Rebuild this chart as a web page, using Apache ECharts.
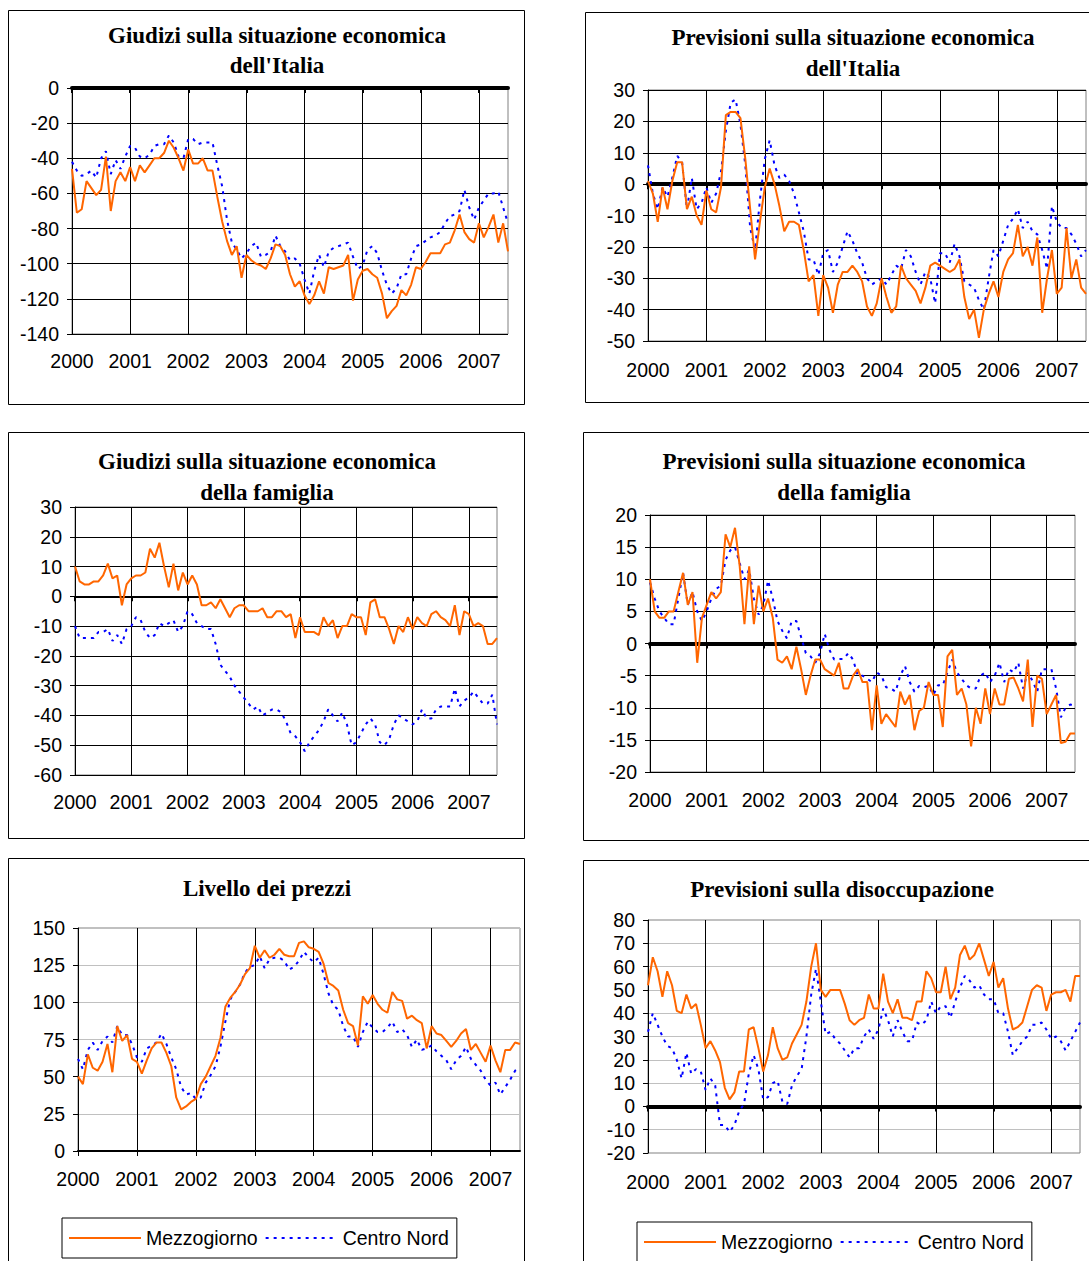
<!DOCTYPE html>
<html><head><meta charset="utf-8">
<script src="https://cdn.jsdelivr.net/npm/echarts@6/dist/echarts.min.js"></script>
<style>html,body{margin:0;padding:0;background:#fff}#c{width:1089px;height:1261px}</style>
</head><body><div id="c"></div>
<script>
// Tick labels (years, one every 12 monthly points)
const years = ['2000','2001','2002','2003','2004','2005','2006','2007'];
const seriesNames = ['Mezzogiorno','Centro Nord'];

// Giudizi sulla situazione economica dell'Italia (Jan 2000 .. Jul 2007, monthly)
const giudItaMez = [-46,-71,-69,-53,-57,-61,-58,-39,-70,-53,
 -48,-53,-45,-53,-44,-48,-44,-40,-40,-37,
 -30,-34,-40,-47,-35,-43,-43,-40,-47,-47,
 -62,-76,-87,-95,-90,-108,-95,-98,-100,-101,
 -103,-97,-89,-90,-95,-106,-113,-110,-118,-123,
 -118,-110,-117,-102,-103,-102,-101,-95,-121,-109,
 -104,-103,-106,-108,-117,-131,-127,-124,-115,-118,
 -112,-102,-103,-99,-94,-94,-94,-89,-88,-81,
 -72,-82,-86,-88,-77,-85,-79,-72,-88,-77,
 -93];
const giudItaCN = [-42,-47,-50,-49,-47,-51,-40,-36,-49,-41,
 -46,-39,-33,-34,-39,-40,-38,-33,-32,-32,
 -27,-31,-39,-40,-29,-29,-32,-31,-31,-31,
 -44,-56,-75,-88,-92,-97,-94,-90,-88,-96,
 -95,-93,-84,-90,-93,-98,-97,-100,-109,-117,
 -104,-95,-102,-93,-91,-90,-89,-88,-96,-103,
 -101,-92,-90,-94,-104,-112,-117,-114,-106,-106,
 -97,-90,-89,-87,-85,-84,-82,-77,-73,-72,
 -70,-58,-68,-75,-68,-64,-60,-60,-59,-68,
 -77];

// Previsioni sulla situazione economica dell'Italia
const prevItaMez = [1,-3,-12,-1,-8,1,7,7,-8,-4,
 -10,-13,-2,-8,-9,-1,22,23,23,21,
 8,-8,-24,-12,-1,5,0,-7,-15,-12,
 -12,-13,-21,-31,-29,-42,-29,-33,-41,-32,
 -28,-28,-26,-28,-31,-39,-42,-38,-30,-36,
 -41,-39,-26,-30,-32,-34,-38,-33,-26,-25,
 -26,-27,-28,-27,-24,-36,-43,-40,-49,-40,
 -35,-31,-36,-28,-24,-22,-13,-23,-20,-26,
 -17,-41,-30,-21,-35,-33,-14,-30,-24,-33,
 -35];
const prevItaCN = [6,-3,-8,-1,-4,2,9,7,-8,2,
 -8,-6,-1,-6,-3,4,17,26,27,19,
 6,-14,-21,-5,8,14,6,2,3,1,
 -3,-9,-15,-24,-24,-29,-22,-21,-28,-25,
 -20,-15,-18,-22,-25,-30,-32,-31,-30,-32,
 -29,-26,-27,-21,-23,-28,-32,-28,-30,-38,
 -22,-22,-25,-19,-23,-31,-32,-33,-37,-40,
 -30,-21,-23,-18,-13,-11,-8,-14,-12,-15,
 -16,-21,-27,-7,-12,-14,-14,-16,-19,-23,
 -21];

// Giudizi sulla situazione economica della famiglia
const giudFamMez = [10,5,4,4,5,5,7,11,6,7,
 -3,4,6,7,7,8,16,13,18,10,
 3,11,2,8,4,7,4,-3,-3,-2,
 -4,-1,-4,-7,-4,-3,-3,-5,-5,-5,
 -4,-7,-7,-5,-5,-7,-6,-14,-7,-12,
 -12,-12,-13,-7,-10,-8,-14,-10,-10,-6,
 -7,-7,-13,-2,-1,-7,-7,-11,-16,-10,
 -12,-7,-11,-7,-9,-10,-6,-5,-7,-8,
 -10,-3,-13,-5,-6,-10,-9,-10,-16,-16,
 -14];
const giudFamCN = [-10,-14,-14,-14,-14,-12,-12,-11,-15,-13,
 -16,-11,-10,-7,-8,-12,-14,-13,-9,-10,
 -9,-8,-12,-10,-5,-6,-9,-10,-11,-11,
 -16,-23,-25,-27,-30,-32,-34,-36,-38,-37,
 -40,-39,-38,-38,-39,-42,-46,-47,-49,-52,
 -49,-47,-45,-42,-38,-40,-42,-39,-43,-50,
 -49,-46,-43,-41,-43,-49,-50,-48,-43,-40,
 -41,-42,-43,-42,-38,-41,-41,-38,-37,-37,
 -37,-31,-37,-35,-34,-32,-34,-36,-36,-33,
 -43];

// Previsioni sulla situazione economica della famiglia
const prevFamMez = [10,5,4,4,5,5,8,11,6,8,
 -3,4,6,8,7,8,17,15,18,12,
 3,12,3,9,5,7,4,-2.5,-3,-2,
 -4,-0.5,-4,-8,-5,-2.5,-2.5,-4,-4.5,-5,
 -3,-7,-7,-5,-4,-6,-6,-13.5,-6.5,-12.5,
 -11,-12,-13,-7.5,-9.5,-8,-13.5,-10.5,-10,-6,
 -8,-8,-13,-2,-1,-8,-7,-9.5,-16,-10,
 -12.5,-7,-11,-7,-9.5,-9.5,-5.5,-5.3,-7,-9,
 -2.5,-13,-5,-5.5,-11,-9.5,-8,-15.5,-15.3,-14,
 -14];
const prevFamCN = [9.5,7,5,4,3,3,7,11,6,8,
 5,3.5,5,7,8.5,9,13,14.5,15,12.5,
 10,11.5,7,4.5,6,9.8,7,3.5,2,0.8,
 3.5,3.5,1,-1.5,-2,-3,-1.5,1.5,-1,-2.5,
 -2.4,-2.4,-1.5,-2.5,-5,-5,-5.5,-6,-4.5,-5,
 -6.8,-7,-7.5,-5,-3.5,-6,-7.5,-6.6,-6.8,-6.6,
 -8,-6.5,-6.5,-4.5,-2.5,-4.5,-5.5,-6.5,-7,-7,
 -5,-4.5,-6,-5,-3,-6,-4,-4.5,-3,-7,
 -4.5,-5.8,-7.5,-4,-4,-4,-7,-11.5,-10,-9.5,
 -9.7];

// Livello dei prezzi
const prezziMez = [50,45,65,56,54,60,72,53,84,74,
 78,62,60,52,61,69,73,73,66,57,
 36,28,30,33,35,45,50,57,64,76,
 97,103,107,112,119,123,138,130,135,130,
 132,136,132,131,131,140,141,137,136,134,
 126,113,111,108,95,86,84,71,104,99,
 105,99,95,93,107,102,101,89,91,88,
 86,69,84,79,78,74,70,74,79,82,
 68,72,66,60,71,61,53,68,68,73,
 72];
const prezziCN = [62,55,68,73,68,74,77,73,84,78,
 78,72,63,60,69,71,73,79,72,63,
 55,43,38,39,35,36,46,51,57,70,
 87,102,107,112,120,124,125,131,123,129,
 130,130,128,122,124,128,134,130,127,130,
 119,106,98,95,84,77,77,70,80,87,
 83,80,80,83,87,80,82,78,70,75,
 68,69,71,67,64,61,55,61,64,70,
 62,58,54,48,44,46,38,43,48,54,
 56];

// Previsioni sulla disoccupazione
const disocMez = [52,64,58,47,58,52,41,40,48,42,
 44,35,25,28,24,19,8,3,6,15,
 15,33,34,25,15,22,34,25,20,21,
 27,31,35,45,60,70,50,47,50,50,
 50,44,37,35,37,38,48,42,42,57,
 45,40,46,38,38,37,45,45,58,55,
 49,49,60,46,51,65,69,63,65,70,
 63,56,62,51,55,42,33,34,36,43,
 50,52,51,41,48,49,49,50,45,56,
 56];
const disocCN = [32,40,35,30,26,25,20,12,23,14,
 16,15,7,12,9,-8,-8,-11,-8,-2,
 1,14,22,16,3,4,10,11,2,1,
 9,13,16,30,48,59,45,31,32,29,
 27,24,21,25,25,30,33,29,33,42,
 37,30,37,32,28,28,36,35,37,45,
 40,43,43,38,45,51,56,54,51,52,
 48,46,46,40,40,32,22,25,28,30,
 35,35,36,33,29,30,28,24,28,32,
 36];

const panels = [
  {title:"Giudizi sulla situazione economica\ndell'Italia", tx:277, ty:20, lh:30,
   grid:{left:72,top:88,width:436,height:246}, ymin:-140, ymax:0, yint:20,
   mez:giudItaMez, cn:giudItaCN, zw:4, hcol:'#000', xm:17, box:[8.5,10.5,516,394]},
  {title:"Previsioni sulla situazione economica\ndell'Italia", tx:853, ty:22, lh:31,
   grid:{left:648,top:90,width:438,height:251}, ymin:-50, ymax:30, yint:10,
   mez:prevItaMez, cn:prevItaCN, zw:4, hcol:'#000', xm:19, box:[585.5,12.5,510,390]},
  {title:"Giudizi sulla situazione economica\ndella famiglia", tx:267, ty:446, lh:31,
   grid:{left:75,top:507,width:422,height:268}, ymin:-60, ymax:30, yint:10,
   mez:giudFamMez, cn:giudFamCN, zw:2, hcol:'#000', xm:17, box:[8.5,432.5,516,406]},
  {title:"Previsioni sulla situazione economica\ndella famiglia", tx:844, ty:446, lh:31,
   grid:{left:650,top:515,width:425,height:257}, ymin:-20, ymax:20, yint:5,
   mez:prevFamMez, cn:prevFamCN, zw:4, hcol:'#000', xm:18, box:[583.5,432.5,512,408]},
  {title:"Livello dei prezzi", tx:267, ty:873, lh:30,
   grid:{left:78,top:928,width:442,height:223}, ymin:0, ymax:150, yint:25,
   mez:prezziMez, cn:prezziCN, zw:0, hcol:'#c0c0c0', xm:18, box:[8.5,858.5,516,410]},
  {title:"Previsioni sulla disoccupazione", tx:842, ty:874, lh:30,
   grid:{left:648,top:920,width:432,height:233}, ymin:-20, ymax:80, yint:10,
   mez:disocMez, cn:disocCN, zw:4, hcol:'#c0c0c0', xm:19, box:[583.5,860.5,512,410]}
];

const SANS = "'Liberation Sans', Arial, sans-serif";
const SERIF = "'Liberation Serif', 'Times New Roman', serif";
const yearTicks = years.map((y, i) => i * 12);
const FS = 19.5;

const option = {
  animation: false,
  backgroundColor: '#fff',
  title: [], grid: [], xAxis: [], yAxis: [], series: [],
  graphic: [],
  legend: []
};

panels.forEach((p, i) => {
  option.graphic.push({type:'rect', shape:{x:p.box[0], y:p.box[1], width:p.box[2], height:p.box[3]},
    style:{fill:'none', stroke:'#000', lineWidth:1}, z:-1, silent:true});
  option.title.push({text:p.title, left:p.tx, top:p.ty, textAlign:'center', padding:0,
    textStyle:{fontFamily:SERIF, fontWeight:'bold', fontSize:23, color:'#000', lineHeight:p.lh}});
  option.grid.push(Object.assign({show:true, borderColor:'#808080', borderWidth:1,
    backgroundColor:'transparent', containLabel:false}, p.grid));
  // label axis at bottom
  option.xAxis.push({gridIndex:i, type:'value', min:0, max:90, interval:12, position:'bottom',
    axisLine:{show: p.zw === 0, onZero:false, lineStyle:{color:'#000', width:2}},
    axisTick:{show: p.zw === 0, length:5, customValues: yearTicks, lineStyle:{color:'#000', width:1}},
    axisLabel:{margin:p.xm, fontSize:FS, color:'#000', fontFamily:SANS,
      formatter: v => (v % 12 === 0 && years[v/12]) ? years[v/12] : ''},
    splitLine:{show:true, lineStyle:{color:'#000', width:1}}});
  // zero line axis
  option.xAxis.push({gridIndex:i, type:'value', min:0, max:90, interval:12, position:'top',
    show: p.zw > 0,
    axisLine:{show:true, onZero:true, lineStyle:{color:'#000', width:p.zw}},
    axisTick:{show:true, inside:true, length:5, customValues: yearTicks, lineStyle:{color:'#000', width:2}},
    axisLabel:{show:false}, splitLine:{show:false}});
  option.yAxis.push({gridIndex:i, type:'value', min:p.ymin, max:p.ymax, interval:p.yint,
    axisLine:{show:true, lineStyle:{color:'#000', width:1}},
    axisTick:{show:true, length:5, lineStyle:{color:'#000'}},
    axisLabel:{margin:13, fontSize:FS, color:'#000', fontFamily:SANS},
    splitLine:{show:true, lineStyle:{color:p.hcol, width:1}}});
  option.series.push({name:seriesNames[0], type:'line', xAxisIndex:2*i, yAxisIndex:i,
    symbol:'none', showSymbol:false, z:3,
    lineStyle:{color:'#FF6600', width:2}, itemStyle:{color:'#FF6600'},
    data:p.mez.map((v,k)=>[k,v])});
  option.series.push({name:seriesNames[1], type:'line', xAxisIndex:2*i, yAxisIndex:i,
    symbol:'none', showSymbol:false, z:2,
    lineStyle:{color:'#0000FF', width:2, type:[3,5]}, itemStyle:{color:'#0000FF'},
    data:p.cn.map((v,k)=>[k,v])});
});

const legendBase = {data:seriesNames, orient:'horizontal', itemWidth:72, itemHeight:18, itemGap:7,
  padding:[10,8,10,6], borderColor:'#000', borderWidth:1, backgroundColor:'#fff',
  itemStyle:{opacity:0}, selectedMode:false,
  textStyle:{fontSize:FS, color:'#000', fontFamily:SANS}};
option.legend.push(Object.assign({left:62, top:1218}, legendBase));
option.legend.push(Object.assign({left:637, top:1222}, legendBase));

const chart = echarts.init(document.getElementById('c'), null, {renderer:'svg', width:1089, height:1261});
chart.setOption(option);
</script>
</body></html>
